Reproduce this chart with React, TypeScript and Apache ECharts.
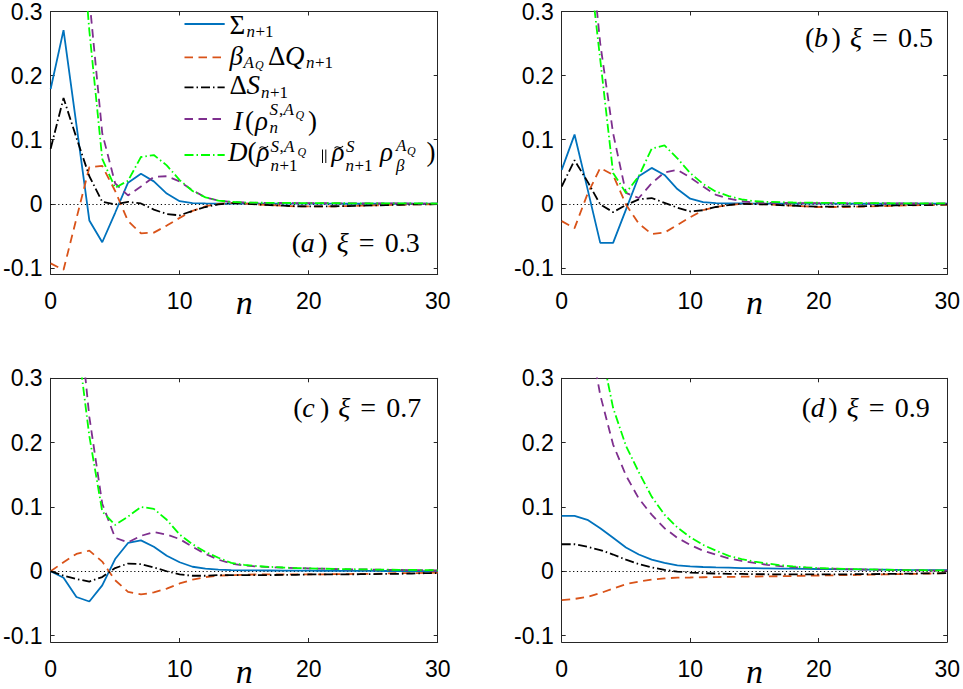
import React, { useEffect, useRef } from "react";
import * as echarts from "echarts";

// ---------------- data ----------------
const nValues = [0, 1, 2, 3, 4, 5, 6, 7, 8, 9, 10, 11, 12, 13, 14, 15, 16, 17, 18, 19, 20, 21, 22, 23, 24, 25, 26, 27, 28, 29, 30];

// (a) xi = 0.3
const sigmaA = [0.179, 0.271, 0.123, -0.026, -0.060, -0.014, 0.033, 0.047, 0.035, 0.016, 0.004, 0.001, 0.0005, 0.0004, 0.0004, 0.0003, 0.0003, 0.0003, 0.0002, 0.0002, 0.0002, 0.0002, 0.0002, 0.0001, 0.0001, 0.0001, 0.0001, 0.0001, 0.0001, 0.0001, 0.0001];
const heatA = [-0.093, -0.103, -0.023, 0.057, 0.059, 0.020, -0.027, -0.046, -0.045, -0.034, -0.022, -0.011, -0.004, 0.000, 0.001, 0.0005, -0.001, -0.002, -0.003, -0.004, -0.004, -0.004, -0.004, -0.0035, -0.003, -0.0025, -0.002, -0.0015, -0.001, -0.001, -0.0005];
const entropyA = [0.086, 0.165, 0.103, 0.043, 0.003, -0.001, 0.003, 0.0005, -0.009, -0.016, -0.018, -0.011, -0.005, -0.001, 0.001, 0.0005, -0.001, -0.002, -0.003, -0.0038, -0.004, -0.004, -0.0038, -0.0035, -0.003, -0.0025, -0.002, -0.0015, -0.001, -0.001, -0.0005];
const infoA = [1.1, 0.85, 0.6, 0.32, 0.11, 0.032, 0.013, 0.027, 0.042, 0.043, 0.035, 0.021, 0.010, 0.005, 0.003, 0.002, 0.0015, 0.0013, 0.0012, 0.001, 0.001, 0.0009, 0.0008, 0.0007, 0.0007, 0.0006, 0.0005, 0.0005, 0.0004, 0.0004, 0.0003];
const relA = [1.2, 0.9, 0.52, 0.27, 0.07, 0.025, 0.036, 0.073, 0.076, 0.060, 0.037, 0.020, 0.010, 0.005, 0.003, 0.002, 0.0017, 0.0015, 0.0013, 0.0012, 0.0011, 0.001, 0.0009, 0.0008, 0.0008, 0.0007, 0.0006, 0.0006, 0.0005, 0.0005, 0.0004];

// (b) xi = 0.5
const sigmaB = [0.053, 0.108, 0.024, -0.061, -0.061, -0.009, 0.043, 0.056, 0.045, 0.023, 0.008, 0.0025, 0.001, 0.0005, 0.0005, 0.0004, 0.0003, 0.0003, 0.0003, 0.0002, 0.0002, 0.0002, 0.0002, 0.0001, 0.0001, 0.0001, 0.0001, 0.0001, 0.0001, 0.0001, 0.0001];
const heatB = [-0.027, -0.038, 0.015, 0.056, 0.045, -0.001, -0.031, -0.047, -0.045, -0.033, -0.021, -0.010, -0.005, -0.002, 0.000, 0.000, -0.001, -0.002, -0.003, -0.004, -0.005, -0.005, -0.005, -0.0045, -0.004, -0.0035, -0.003, -0.0025, -0.002, -0.002, -0.0015];
const entropyB = [0.027, 0.068, 0.035, -0.001, -0.013, -0.002, 0.007, 0.009, 0.0015, -0.006, -0.012, -0.010, -0.005, -0.002, 0.000, -0.0005, -0.001, -0.002, -0.003, -0.004, -0.0045, -0.0045, -0.004, -0.004, -0.0035, -0.003, -0.0025, -0.002, -0.002, -0.0015, -0.001];
const infoB = [1.0, 0.75, 0.45, 0.25, 0.11, 0.017, 0.009, 0.032, 0.049, 0.053, 0.041, 0.027, 0.014, 0.008, 0.004, 0.002, 0.0015, 0.0013, 0.0012, 0.001, 0.001, 0.0009, 0.0008, 0.0007, 0.0007, 0.0006, 0.0005, 0.0005, 0.0004, 0.0004, 0.0003];
const relB = [1.1, 0.8, 0.4, 0.225, 0.048, 0.017, 0.043, 0.086, 0.091, 0.071, 0.048, 0.031, 0.019, 0.012, 0.007, 0.004, 0.003, 0.0025, 0.002, 0.0018, 0.0016, 0.0014, 0.0012, 0.0011, 0.001, 0.0009, 0.0008, 0.0007, 0.0006, 0.0006, 0.0005];

// (c) xi = 0.7
const sigmaC = [0, -0.010, -0.040, -0.047, -0.022, 0.019, 0.044, 0.048, 0.038, 0.024, 0.014, 0.007, 0.004, 0.0025, 0.0018, 0.0015, 0.0013, 0.0012, 0.001, 0.001, 0.0009, 0.0008, 0.0007, 0.0006, 0.0005, 0.0005, 0.0004, 0.0004, 0.0003, 0.0003, 0.0003];
const heatC = [0, 0.014, 0.027, 0.032, 0.015, -0.014, -0.032, -0.036, -0.033, -0.027, -0.019, -0.013, -0.009, -0.007, -0.006, -0.0055, -0.005, -0.005, -0.005, -0.005, -0.005, -0.005, -0.0045, -0.0045, -0.004, -0.004, -0.0035, -0.003, -0.003, -0.0025, -0.002];
const entropyC = [0, -0.007, -0.012, -0.016, -0.009, 0.005, 0.012, 0.011, 0.006, 0.000, -0.005, -0.007, -0.007, -0.006, -0.006, -0.006, -0.006, -0.006, -0.0055, -0.0055, -0.005, -0.005, -0.005, -0.005, -0.0045, -0.0045, -0.004, -0.004, -0.0035, -0.003, -0.003];
const infoC = [1.0, 0.75, 0.44, 0.24, 0.105, 0.052, 0.045, 0.055, 0.061, 0.057, 0.050, 0.038, 0.027, 0.018, 0.012, 0.009, 0.0075, 0.0065, 0.0055, 0.005, 0.0045, 0.004, 0.0035, 0.003, 0.003, 0.0025, 0.0022, 0.002, 0.0018, 0.0016, 0.0015];
const relC = [0.9, 0.6, 0.37, 0.21, 0.093, 0.072, 0.085, 0.100, 0.097, 0.080, 0.057, 0.042, 0.030, 0.021, 0.013, 0.010, 0.008, 0.0068, 0.0058, 0.005, 0.0045, 0.004, 0.0036, 0.0032, 0.003, 0.0027, 0.0024, 0.0022, 0.002, 0.0018, 0.0016];

// (d) xi = 0.9
const sigmaD = [0.086, 0.086, 0.080, 0.067, 0.052, 0.037, 0.026, 0.018, 0.013, 0.009, 0.0077, 0.0066, 0.006, 0.0055, 0.005, 0.0048, 0.0045, 0.0042, 0.004, 0.0037, 0.0035, 0.0032, 0.003, 0.0028, 0.0026, 0.0024, 0.0022, 0.002, 0.0019, 0.0018, 0.0016];
const heatD = [-0.045, -0.043, -0.040, -0.034, -0.027, -0.020, -0.016, -0.013, -0.011, -0.010, -0.0097, -0.0093, -0.009, -0.0088, -0.0085, -0.0082, -0.008, -0.0077, -0.0074, -0.007, -0.0066, -0.0063, -0.006, -0.0057, -0.0054, -0.005, -0.0046, -0.0042, -0.0038, -0.0034, -0.003];
const entropyD = [0.042, 0.042, 0.038, 0.033, 0.026, 0.018, 0.011, 0.006, 0.002, -0.0005, -0.002, -0.003, -0.0035, -0.004, -0.0042, -0.0045, -0.0047, -0.0048, -0.005, -0.005, -0.005, -0.005, -0.0048, -0.0046, -0.0044, -0.0042, -0.004, -0.0037, -0.0034, -0.0032, -0.003];
const infoD = [0.7, 0.55, 0.383, 0.274, 0.197, 0.149, 0.113, 0.088, 0.067, 0.052, 0.041, 0.032, 0.026, 0.020, 0.016, 0.013, 0.010, 0.008, 0.0065, 0.0055, 0.0045, 0.004, 0.0033, 0.0028, 0.0024, 0.002, 0.0017, 0.0015, 0.0013, 0.0011, 0.001];
const relD = [0.8, 0.62, 0.47, 0.352, 0.254, 0.195, 0.154, 0.116, 0.088, 0.068, 0.053, 0.041, 0.032, 0.024, 0.019, 0.015, 0.012, 0.0095, 0.0075, 0.006, 0.005, 0.0043, 0.0037, 0.0032, 0.0028, 0.0024, 0.002, 0.0018, 0.0016, 0.0014, 0.0012];

const seriesNames = ["Σ_{n+1}", "β_{A_Q} ΔQ_{n+1}", "ΔS_{n+1}", "I(ρ_n^{S,A_Q})", "D(ρ̃_{n+1}^{S,A_Q} ∥ ρ̃_{n+1}^S ρ_β^{A_Q})"];
const panelLetters = ["a", "b", "c", "d"];
const panelXi = ["0.3", "0.5", "0.7", "0.9"];
const xTickValues = [0, 10, 20, 30];
const yTickValues = [-0.1, 0, 0.1, 0.2, 0.3];
const yTickLabels = ["-0.1", "0", "0.1", "0.2", "0.3"];

const panelData = [
  [sigmaA, heatA, entropyA, infoA, relA],
  [sigmaB, heatB, entropyB, infoB, relB],
  [sigmaC, heatC, entropyC, infoC, relC],
  [sigmaD, heatD, entropyD, infoD, relD],
];

// ---------------- styles / layout ----------------
const SERIF = "Liberation Serif, DejaVu Serif, serif";
const SANS = "Liberation Sans, sans-serif";
const AXIS_COLOR = "#262626";
const LW = 1.8;

const lineStyles = [
  { color: "#0072BD", dash: "solid" as any },
  { color: "#D95319", dash: [8.5, 5.5] },
  { color: "#000000", dash: [9, 3, 1.5, 3] },
  { color: "#7E2F8E", dash: [8.5, 5.5] },
  { color: "#00FF00", dash: [9, 3, 1.5, 3] },
];

const grids = [
  { left: 50, top: 7.7, width: 387.7, height: 266.6 },
  { left: 561.7, top: 7.7, width: 388.3, height: 266.6 },
  { left: 50, top: 378.3, width: 387.7, height: 267.4 },
  { left: 561.7, top: 378.3, width: 388.3, height: 267.4 },
];
// panel label: left x of "(" and baseline
const labelPos = [
  { L: 291.7, b: 252 },
  { L: 805, b: 46.5 },
  { L: 293.3, b: 416.7 },
  { L: 801.7, b: 417 },
];

const C_SERIF = 0.3375;

function txt(x: number, baseline: number, text: string, size: number, italic = false): any {
  return {
    type: "text",
    x,
    y: baseline - C_SERIF * size,
    silent: true,
    z: 100,
    style: {
      text,
      fill: "#000",
      fontSize: size,
      fontFamily: SERIF,
      fontStyle: italic ? "italic" : "normal",
      align: "left",
      verticalAlign: "middle",
      textAlign: "left",
      textVerticalAlign: "middle",
    },
  };
}

function legLine(y: number, k: number): any {
  const ls = lineStyles[k];
  return {
    type: "line",
    silent: true,
    z: 100,
    shape: { x1: 184.5, y1: y, x2: 224.7, y2: y },
    style: { stroke: ls.color, lineWidth: LW, lineDash: ls.dash === "solid" ? null : ls.dash },
  };
}

function vbar(x: number): any {
  return { type: "line", silent: true, z: 100, shape: { x1: x, y1: 149.5, x2: x, y2: 163 }, style: { stroke: "#000", lineWidth: 1 } };
}

// a small tilde accent drawn as a curve
function tilde(x: number, y: number): any {
  return {
    type: "bezierCurve",
    silent: true,
    z: 100,
    shape: { x1: x, y1: y + 1.2, cpx1: x + 3, cpy1: y - 3.2, cpx2: x + 5.5, cpy2: y + 3.6, x2: x + 8.5, y2: y - 1 },
    style: { stroke: "#000", lineWidth: 1.1, fill: null },
  };
}

function legendElements(): any[] {
  const M = 27, S = 17, SS = 12;
  const els: any[] = [];
  [24, 57.3, 87.3, 119, 155].forEach((y, k) => els.push(legLine(y, k)));
  // row 1: Σ_{n+1}
  els.push(txt(229.5, 34, "Σ", M));
  els.push(txt(246.5, 37, "n", S, true));
  els.push(txt(255.5, 37, "+1", S));
  // row 2: β_{A_Q} ΔQ_{n+1}
  els.push(txt(229.5, 65, "β", M, true));
  els.push(txt(243.5, 68.5, "A", S, true));
  els.push(txt(255, 69, "Q", SS, true));
  els.push(txt(268, 65, "Δ", M));
  els.push(txt(285, 65, "Q", M, true));
  els.push(txt(306, 68.5, "n", S, true));
  els.push(txt(315, 68.5, "+1", S));
  // row 3: ΔS_{n+1}
  els.push(txt(229.5, 94.5, "Δ", M));
  els.push(txt(246.5, 94.5, "S", M, true));
  els.push(txt(261, 98, "n", S, true));
  els.push(txt(270, 98, "+1", S));
  // row 4: I(ρ_n^{S,A_Q})
  els.push(txt(233.5, 130, "I", M, true));
  els.push(txt(245, 130, "(", M));
  els.push(txt(255, 130, "ρ", M, true));
  els.push(txt(269.5, 115.5, "S", S, true));
  els.push(txt(279, 115.5, ",", S));
  els.push(txt(283.5, 115.5, "A", S, true));
  els.push(txt(295.5, 119, "Q", SS, true));
  els.push(txt(269.5, 133.5, "n", S, true));
  els.push(txt(308, 130, ")", M));
  // row 5: D(ρ̃_{n+1}^{S,A_Q} ∥ ρ̃_{n+1}^S ρ_β^{A_Q})
  els.push(txt(228, 161, "D", M, true));
  els.push(txt(247.5, 161, "(", M));
  els.push(txt(256.5, 161, "ρ", M, true));
  els.push(tilde(259.5, 147));
  els.push(txt(270.5, 152, "S", S, true));
  els.push(txt(279.5, 152, ",", S));
  els.push(txt(284, 152, "A", S, true));
  els.push(txt(297.5, 156, "Q", SS, true));
  els.push(txt(270.5, 171, "n", S, true));
  els.push(txt(279.5, 171, "+1", S));
  els.push(vbar(322.5));
  els.push(vbar(325.8));
  els.push(txt(331.5, 161, "ρ", M, true));
  els.push(tilde(334.5, 147));
  els.push(txt(346, 152.5, "S", S, true));
  els.push(txt(345.5, 171, "n", S, true));
  els.push(txt(354.5, 171, "+1", S));
  els.push(txt(380, 161, "ρ", M, true));
  els.push(txt(396, 151.5, "A", S, true));
  els.push(txt(407, 155.5, "Q", SS, true));
  els.push(txt(396, 171, "β", S, true));
  els.push(txt(426.5, 161, ")", M));
  return els;
}

function panelLabelElements(): any[] {
  const F = 28;
  const els: any[] = [];
  labelPos.forEach((p, i) => {
    els.push(txt(p.L, p.b, "(", F));
    els.push(txt(p.L + 9, p.b, panelLetters[i], F, true));
    els.push(txt(p.L + 26.6, p.b, ")", F));
    els.push(txt(p.L + 45, p.b, "ξ", F, true));
    els.push(txt(p.L + 67, p.b, "=", F));
    els.push(txt(p.L + 93, p.b, panelXi[i], F));
  });
  return els;
}

function buildOption(): any {
  const xAxis: any[] = [];
  const yAxis: any[] = [];
  const series: any[] = [];
  grids.forEach((g, i) => {
    const common = {
      type: "value",
      gridIndex: i,
      splitLine: { show: false },
      axisLine: { show: true, onZero: false, lineStyle: { color: AXIS_COLOR, width: 1 } },
      axisTick: { show: true, inside: true, length: 4, lineStyle: { color: AXIS_COLOR, width: 1 } },
    };
    xAxis.push({
      ...common,
      position: "bottom",
      min: 0,
      max: 30,
      interval: 10,
      axisTick: { ...common.axisTick, customValues: xTickValues },
      axisLabel: {
        customValues: xTickValues,
        fontFamily: SANS,
        fontSize: 23,
        color: "#000",
        margin: 15,
      },
      name: "n",
      nameLocation: "middle",
      nameGap: i < 2 ? 11 : 12,
      nameMoveOverlap: false,
      nameTextStyle: { fontFamily: SERIF, fontStyle: "italic", fontSize: 34, color: "#000" },
    });
    xAxis.push({
      ...common,
      position: "top",
      min: 0,
      max: 30,
      interval: 10,
      axisTick: { ...common.axisTick, customValues: xTickValues },
      axisLabel: { show: false },
    });
    const yLabel = {
      customValues: yTickValues,
      fontFamily: SANS,
      fontSize: 23,
      color: "#000",
      margin: 8,
      formatter: (v: number) => {
        const k = yTickValues.findIndex((t) => Math.abs(t - v) < 1e-9);
        return k >= 0 ? yTickLabels[k] : "";
      },
    };
    yAxis.push({
      ...common,
      position: "left",
      min: -0.11,
      max: 0.3,
      axisTick: { ...common.axisTick, customValues: yTickValues },
      axisLabel: yLabel,
    });
    yAxis.push({
      ...common,
      position: "right",
      min: -0.11,
      max: 0.3,
      axisTick: { ...common.axisTick, customValues: yTickValues },
      axisLabel: { show: false, customValues: yTickValues },
    });

    panelData[i].forEach((arr, k) => {
      const ls = lineStyles[k];
      const s: any = {
        type: "line",
        name: seriesNames[k],
        xAxisIndex: 2 * i,
        yAxisIndex: 2 * i,
        data: nValues.map((n, j) => [n, arr[j]]),
        showSymbol: false,
        symbol: "none",
        clip: true,
        silent: true,
        z: 3 + k,
        lineStyle: { color: ls.color, width: LW, type: ls.dash },
      };
      if (k === 0) {
        s.markLine = {
          silent: true,
          symbol: ["none", "none"],
          label: { show: false },
          z: 1,
          lineStyle: { color: "#000", width: 1, type: [1.2, 2.6] },
          data: [{ yAxis: 0 }],
        };
      }
      series.push(s);
    });
  });

  return {
    animation: false,
    backgroundColor: "#ffffff",
    grid: grids.map((g) => ({ ...g, containLabel: false })),
    xAxis,
    yAxis,
    series,
    graphic: { elements: [...legendElements(), ...panelLabelElements()] },
  };
}

export default function App() {
  const ref = useRef<HTMLDivElement>(null);
  useEffect(() => {
    const chart = echarts.init(ref.current!, null, { renderer: "svg" });
    chart.setOption(buildOption());
    return () => {
      chart.dispose();
    };
  }, []);
  return (
    <div
      ref={ref}
      style={{ position: "absolute", left: 0, top: 0, width: 963, height: 689, background: "#fff" }}
    />
  );
}
